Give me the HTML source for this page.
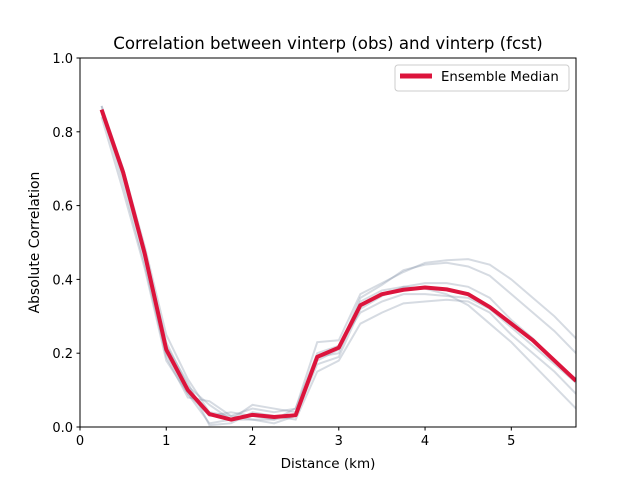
<!DOCTYPE html>
<html><head><meta charset="utf-8"><style>
body{margin:0;background:#fff;font-family:"Liberation Sans","DejaVu Sans",sans-serif;}
</style></head><body>
<svg id="chart" width="640" height="480" xmlns="http://www.w3.org/2000/svg" font-family="DejaVu Sans, Liberation Sans, sans-serif"></svg>
<script>
const distances=[0.25,0.5,0.75,1,1.25,1.5,1.75,2,2.25,2.5,2.75,3,3.25,3.5,3.75,4,4.25,4.5,4.75,5,5.25,5.5,5.75];
const medianValues=[0.86,0.69,0.47,0.21,0.10,0.035,0.02,0.033,0.027,0.032,0.19,0.215,0.33,0.36,0.372,0.378,0.373,0.36,0.325,0.28,0.235,0.18,0.125];
const member1=[0.87,0.70,0.49,0.25,0.13,0.04,0.03,0.05,0.04,0.05,0.23,0.235,0.36,0.39,0.42,0.445,0.452,0.455,0.44,0.40,0.35,0.30,0.24];
const member2=[0.85,0.68,0.46,0.20,0.09,0.01,0.02,0.06,0.05,0.04,0.18,0.21,0.35,0.385,0.425,0.44,0.445,0.435,0.41,0.36,0.31,0.26,0.20];
const member3=[0.86,0.66,0.44,0.19,0.08,0.07,0.03,0.02,0.01,0.03,0.17,0.19,0.32,0.355,0.38,0.39,0.39,0.38,0.35,0.29,0.24,0.18,0.13];
const member4=[0.84,0.64,0.43,0.18,0.09,0.03,0.04,0.03,0.02,0.05,0.20,0.22,0.31,0.34,0.36,0.36,0.355,0.35,0.32,0.27,0.22,0.17,0.12];
const member5=[0.86,0.70,0.48,0.22,0.12,0.005,0.01,0.04,0.03,0.02,0.15,0.18,0.28,0.31,0.335,0.34,0.345,0.34,0.31,0.25,0.20,0.15,0.09];
const member6=[0.87,0.69,0.47,0.23,0.11,0.06,0.02,0.02,0.02,0.03,0.19,0.20,0.34,0.37,0.38,0.375,0.36,0.33,0.28,0.23,0.17,0.11,0.05];
const members=[member1,member2,member3,member4,member5,member6];
const xTicks=[0,1,2,3,4,5];
const yTicks=[0.0,0.2,0.4,0.6,0.8,1.0];
const L=80,R=576,T=58,B=427,xMax=5.75;
const sx=v=>L+(R-L)*v/xMax, sy=v=>B-(B-T)*v;
const svg=document.getElementById('chart');
const NS='http://www.w3.org/2000/svg';
function mk(tag,attrs,parent){const e=document.createElementNS(NS,tag);for(const k in attrs)e.setAttribute(k,attrs[k]);(parent||svg).appendChild(e);return e;}
const clip=mk('clipPath',{id:'plotclip'});mk('rect',{x:L,y:T,width:R-L,height:B-T},clip);
const g=mk('g',{'clip-path':'url(#plotclip)'});


members.forEach((m,i)=>{
  const p=mk('polyline',{points:m.map((v,j)=>sx(distances[j])+','+sy(v)).join(' '),fill:'none',stroke:'#8a99ab','stroke-opacity':0.35,'stroke-width':2},g);
  
  
});
const med=mk('polyline',{points:medianValues.map((v,j)=>sx(distances[j])+','+sy(v)).join(' '),fill:'none',stroke:'#dc143c','stroke-width':4,'stroke-linejoin':'round'},g);


const frame=mk('rect',{x:L,y:T,width:R-L,height:B-T,fill:'none',stroke:'#000','stroke-width':1});


xTicks.forEach(t=>{
  const x=sx(t);
  mk('line',{x1:x,x2:x,y1:B,y2:B+3.5,stroke:'#000'});
  const tx=mk('text',{x:x,y:B+18,'text-anchor':'middle','font-size':13});tx.textContent=t;
  
  
});
yTicks.forEach(t=>{
  const y=sy(t);
  mk('line',{x1:L-3.5,x2:L,y1:y,y2:y,stroke:'#000'});
  const tx=mk('text',{x:L-7,y:y+5,'text-anchor':'end','font-size':13});tx.textContent=t.toFixed(1);
  
  
});
const xt=mk('text',{x:(L+R)/2,y:468,'text-anchor':'middle','font-size':13.5});xt.textContent='Distance (km)';


const yt=mk('text',{x:0,y:0,'text-anchor':'middle','font-size':13.9,transform:'translate(39,'+((T+B)/2)+') rotate(-90)'});yt.textContent='Absolute Correlation';


const ti=mk('text',{x:(L+R)/2,y:49,'text-anchor':'middle','font-size':16.6});ti.textContent='Correlation between vinterp (obs) and vinterp (fcst)';


const lg=mk('g',{});


mk('rect',{x:395,y:65,width:174,height:26,rx:3,fill:'#fff',stroke:'#ccc'},lg);
mk('line',{x1:400,x2:432,y1:76,y2:76,stroke:'#dc143c','stroke-width':5},lg);
const lt=mk('text',{x:441,y:81,'font-size':13.3},lg);lt.textContent='Ensemble Median';


</script>
</body></html>
